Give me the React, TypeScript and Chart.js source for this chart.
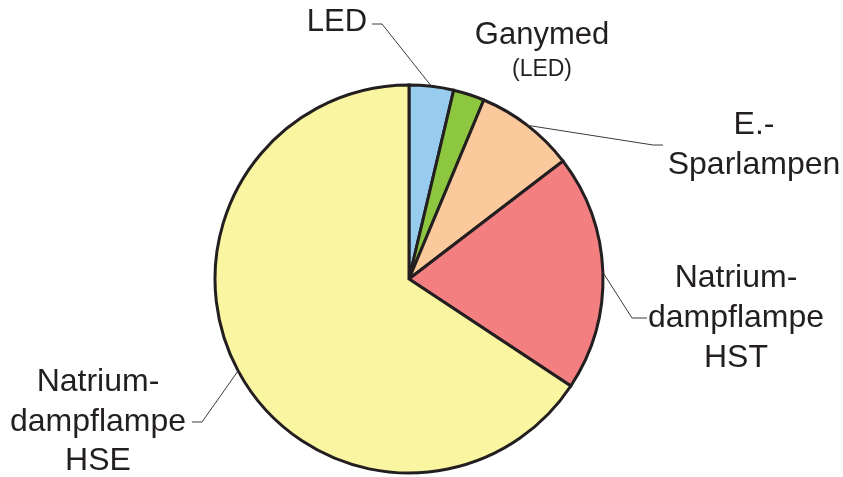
import React, { useEffect, useRef } from "react";
import { Chart, registerables } from "chart.js";

Chart.register(...registerables);

const categories = ["LED", "Ganymed (LED)", "E.-Sparlampen", "Natriumdampflampe HST", "Natriumdampflampe HSE"];
const shares = [3.7, 2.6, 8.3, 19.7, 65.7];
const sliceColors = ["#97CCEE", "#8DC63F", "#FCC99C", "#F37F81", "#F9F5A1"];

// label layout: lines of text, text centre, leader elbow + end
type LabelSpec = {
  lines: { text: string; size: number; y: number }[];
  x: number;
  leader?: { elbow: [number, number]; end: [number, number] };
};
const labelLayout: LabelSpec[] = [
  { lines: [{ text: "LED", size: 31, y: 22 }], x: 337, leader: { elbow: [382, 24], end: [372, 24] } },
  { lines: [{ text: "Ganymed", size: 31, y: 35 }, { text: "(LED)", size: 23, y: 70 }], x: 542 },
  {
    lines: [{ text: "E.-", size: 32, y: 125 }, { text: "Sparlampen", size: 32, y: 165 }],
    x: 754,
    leader: { elbow: [653, 145], end: [663, 145] },
  },
  {
    lines: [
      { text: "Natrium-", size: 32, y: 278 },
      { text: "dampflampe", size: 32, y: 318 },
      { text: "HST", size: 32, y: 358 },
    ],
    x: 736,
    leader: { elbow: [632, 318], end: [647, 318] },
  },
  {
    lines: [
      { text: "Natrium-", size: 32, y: 382 },
      { text: "dampflampe", size: 32, y: 422 },
      { text: "HSE", size: 32, y: 461 },
    ],
    x: 98,
    leader: { elbow: [202, 422], end: [192, 422] },
  },
];

const labelPlugin = {
  id: "leaderLabels",
  afterDraw(chart: any) {
    const ctx = chart.ctx;
    const meta = chart.getDatasetMeta(0);
    ctx.save();
    labelLayout.forEach((spec, i) => {
      const arc = meta.data[i];
      if (!arc) return;
      if (spec.leader) {
        const p = arc.getProps(["x", "y", "startAngle", "endAngle", "outerRadius"], true);
        const mid = (p.startAngle + p.endAngle) / 2;
        const ax = p.x + Math.cos(mid) * p.outerRadius;
        const ay = p.y + Math.sin(mid) * p.outerRadius;
        ctx.beginPath();
        ctx.strokeStyle = "#3a3a3a";
        ctx.lineWidth = 1;
        ctx.moveTo(ax, ay);
        ctx.lineTo(spec.leader.elbow[0], spec.leader.elbow[1]);
        ctx.lineTo(spec.leader.end[0], spec.leader.end[1]);
        ctx.stroke();
      }
      ctx.fillStyle = "#231F20";
      ctx.textAlign = "center";
      ctx.textBaseline = "middle";
      spec.lines.forEach((ln) => {
        ctx.font = `${ln.size}px "Liberation Sans", Arial, sans-serif`;
        ctx.fillText(ln.text, spec.x, ln.y);
      });
    });
    ctx.restore();
  },
};

export default function App() {
  const ref = useRef<HTMLCanvasElement>(null);
  useEffect(() => {
    if (!ref.current) return;
    const chart = new Chart(ref.current, {
      type: "pie",
      data: {
        labels: categories,
        datasets: [
          {
            data: shares,
            backgroundColor: sliceColors,
            borderColor: "#231F20",
            borderWidth: 3,
            radius: 194,
          } as any,
        ],
      },
      options: {
        animation: false,
        responsive: false,
        layout: { padding: { left: 0, right: 25, top: 81, bottom: 0 } },
        plugins: { legend: { display: false }, tooltip: { enabled: false } },
        elements: { arc: { borderJoinStyle: "miter" } as any },
      },
      plugins: [labelPlugin],
    });
    return () => chart.destroy();
  }, []);
  return (
    <div style={{ position: "fixed", left: 0, top: 0, width: 843, height: 477, background: "#fff" }}>
      <canvas ref={ref} width={843} height={477} style={{ width: 843, height: 477 }} />
    </div>
  );
}
